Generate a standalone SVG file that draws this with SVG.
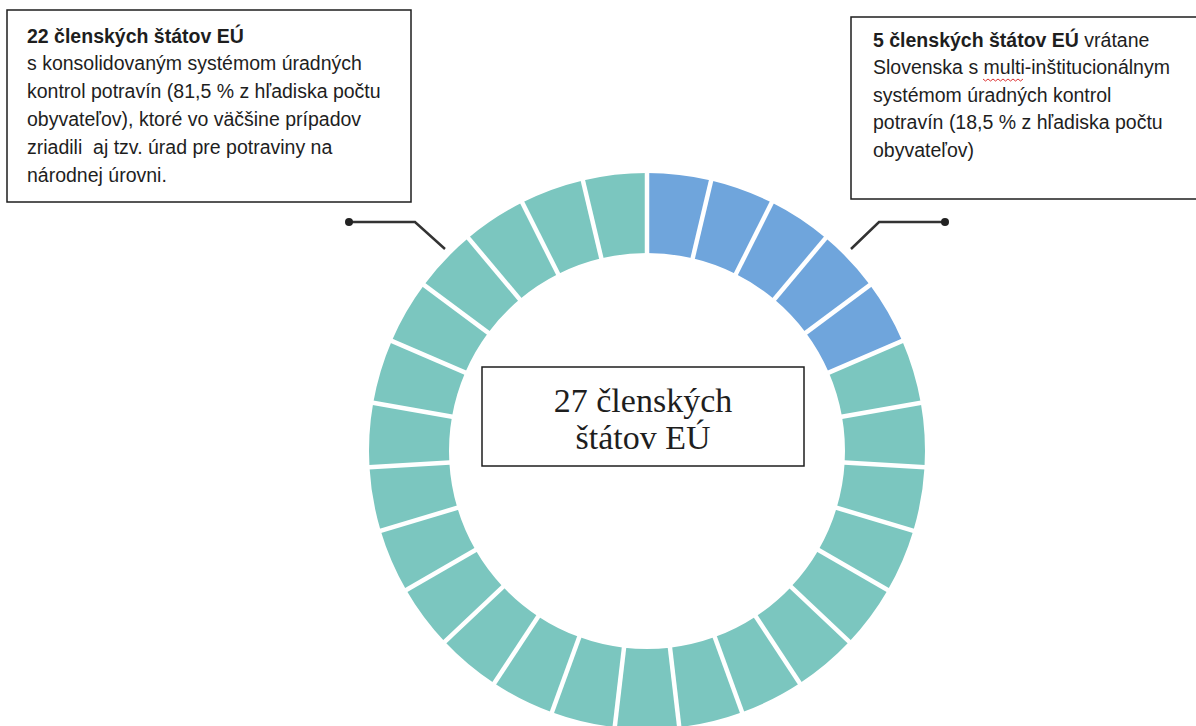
<svg xmlns="http://www.w3.org/2000/svg" xmlns:xlink="http://www.w3.org/1999/xlink" width="1196" height="726" viewBox="0 0 1196 726">
<style>
.box{fill:#fff;stroke:#1e1e1e;stroke-width:1.5}
.t{font-family:"Liberation Sans",Arial,sans-serif;font-size:19.5px;fill:#1e1e1e}
.b{font-weight:bold}
.c{font-family:"Liberation Serif","Times New Roman",serif;font-size:34px;fill:#1e1e1e;text-anchor:middle}
.teal{fill:#7bc6bf}
.blue{fill:#6fa5dc}
.sep{stroke:#fff;stroke-width:4.5}
.conn{fill:none;stroke:#333;stroke-width:2.5}
</style>
<defs>
<path id="seg" d="M647,173 A278,278 0 0 1 711.11,180.50 L692.66,258.34 A198,198 0 0 0 647,253 Z"/>
<line id="cut" x1="647" y1="262" x2="647" y2="164"/>
</defs>
<rect width="1196" height="726" fill="#fff"/>
<g id="ring">
<use href="#seg" class="blue" transform="rotate(0 647 451)"/>
<use href="#seg" class="blue" transform="rotate(13.3333 647 451)"/>
<use href="#seg" class="blue" transform="rotate(26.6667 647 451)"/>
<use href="#seg" class="blue" transform="rotate(40 647 451)"/>
<use href="#seg" class="blue" transform="rotate(53.3333 647 451)"/>
<use href="#seg" class="teal" transform="rotate(66.6667 647 451)"/>
<use href="#seg" class="teal" transform="rotate(80 647 451)"/>
<use href="#seg" class="teal" transform="rotate(93.3333 647 451)"/>
<use href="#seg" class="teal" transform="rotate(106.6667 647 451)"/>
<use href="#seg" class="teal" transform="rotate(120 647 451)"/>
<use href="#seg" class="teal" transform="rotate(133.3333 647 451)"/>
<use href="#seg" class="teal" transform="rotate(146.6667 647 451)"/>
<use href="#seg" class="teal" transform="rotate(160 647 451)"/>
<use href="#seg" class="teal" transform="rotate(173.3333 647 451)"/>
<use href="#seg" class="teal" transform="rotate(186.6667 647 451)"/>
<use href="#seg" class="teal" transform="rotate(200 647 451)"/>
<use href="#seg" class="teal" transform="rotate(213.3333 647 451)"/>
<use href="#seg" class="teal" transform="rotate(226.6667 647 451)"/>
<use href="#seg" class="teal" transform="rotate(240 647 451)"/>
<use href="#seg" class="teal" transform="rotate(253.3333 647 451)"/>
<use href="#seg" class="teal" transform="rotate(266.6667 647 451)"/>
<use href="#seg" class="teal" transform="rotate(280 647 451)"/>
<use href="#seg" class="teal" transform="rotate(293.3333 647 451)"/>
<use href="#seg" class="teal" transform="rotate(306.6667 647 451)"/>
<use href="#seg" class="teal" transform="rotate(320 647 451)"/>
<use href="#seg" class="teal" transform="rotate(333.3333 647 451)"/>
<use href="#seg" class="teal" transform="rotate(346.6667 647 451)"/>
<g class="sep">
<use href="#cut" transform="rotate(0 647 451)"/>
<use href="#cut" transform="rotate(13.3333 647 451)"/>
<use href="#cut" transform="rotate(26.6667 647 451)"/>
<use href="#cut" transform="rotate(40 647 451)"/>
<use href="#cut" transform="rotate(53.3333 647 451)"/>
<use href="#cut" transform="rotate(66.6667 647 451)"/>
<use href="#cut" transform="rotate(80 647 451)"/>
<use href="#cut" transform="rotate(93.3333 647 451)"/>
<use href="#cut" transform="rotate(106.6667 647 451)"/>
<use href="#cut" transform="rotate(120 647 451)"/>
<use href="#cut" transform="rotate(133.3333 647 451)"/>
<use href="#cut" transform="rotate(146.6667 647 451)"/>
<use href="#cut" transform="rotate(160 647 451)"/>
<use href="#cut" transform="rotate(173.3333 647 451)"/>
<use href="#cut" transform="rotate(186.6667 647 451)"/>
<use href="#cut" transform="rotate(200 647 451)"/>
<use href="#cut" transform="rotate(213.3333 647 451)"/>
<use href="#cut" transform="rotate(226.6667 647 451)"/>
<use href="#cut" transform="rotate(240 647 451)"/>
<use href="#cut" transform="rotate(253.3333 647 451)"/>
<use href="#cut" transform="rotate(266.6667 647 451)"/>
<use href="#cut" transform="rotate(280 647 451)"/>
<use href="#cut" transform="rotate(293.3333 647 451)"/>
<use href="#cut" transform="rotate(306.6667 647 451)"/>
<use href="#cut" transform="rotate(320 647 451)"/>
<use href="#cut" transform="rotate(333.3333 647 451)"/>
<use href="#cut" transform="rotate(346.6667 647 451)"/>
</g>
</g>
<g id="connectors">
<polyline class="conn" points="349,222 415,222 445,249"/>
<circle cx="349" cy="222" r="4" fill="#222"/>
<polyline class="conn" points="851,249 879,222 945,222"/>
<circle cx="945" cy="222" r="4" fill="#222"/>
</g>
<g id="box-left">
<rect class="box" x="7" y="10" width="404" height="192"/>
<text class="t b" x="27" y="42.5">22 členských štátov EÚ</text>
<text class="t" x="27" y="70.3">s konsolidovaným systémom úradných</text>
<text class="t" x="27" y="98.1">kontrol potravín (81,5 % z hľadiska počtu</text>
<text class="t" x="27" y="125.9">obyvateľov), ktoré vo väčšine prípadov</text>
<text class="t" x="27" y="153.7">zriadili&#160; aj tzv. úrad pre potraviny na</text>
<text class="t" x="27" y="181.5">národnej úrovni.</text>
</g>
<g id="box-right">
<rect class="box" x="851" y="17" width="360" height="182"/>
<text class="t" x="873" y="46.5"><tspan class="b">5 členských štátov EÚ</tspan> vrátane</text>
<text class="t" x="873" y="74">Slovenska s multi-inštitucionálnym</text>
<path d="M983,79 l2.5,2 l2.5,-2 l2.5,2 l2.5,-2 l2.5,2 l2.5,-2 l2.5,2 l2.5,-2 l2.5,2 l2.5,-2 l2.5,2 l2.5,-2 l2.5,2 l2.5,-2 l2.5,2 l2.5,-2" fill="none" stroke="#d33" stroke-width="1"/>
<text class="t" x="873" y="101.5">systémom úradných kontrol</text>
<text class="t" x="873" y="129">potravín (18,5 % z hľadiska počtu</text>
<text class="t" x="873" y="156.5">obyvateľov)</text>
</g>
<g id="center">
<rect class="box" x="482" y="367" width="322" height="99"/>
<text class="c" x="643" y="412">27 členských</text>
<text class="c" x="643" y="449">štátov EÚ</text>
</g>
</svg>
